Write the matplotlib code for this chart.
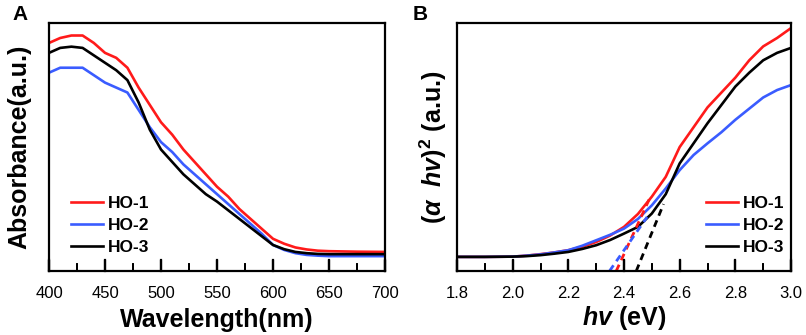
#Grafico de absorbancia UV-Vis + Tauc plot (HO-1, HO-2, HO-3)
import matplotlib
matplotlib.use('Agg')
import matplotlib.pyplot as plt
import matplotlib.transforms as mtransforms
from matplotlib.ticker import MultipleLocator

#Dados do painel A (comprimento de onda em nm)
comprimento = [400, 410, 420, 430, 440, 450, 460, 470, 480, 490, 500, 510, 520, 530, 540,
               550, 560, 570, 580, 590, 600, 610, 620, 630, 640, 650, 675, 700]
abs_ho1 = [0.92, 0.94, 0.95, 0.95, 0.92, 0.88, 0.86, 0.82, 0.74, 0.67, 0.60, 0.55, 0.49, 0.44, 0.39,
           0.34, 0.30, 0.25, 0.21, 0.17, 0.13, 0.11, 0.095, 0.087, 0.082, 0.080, 0.078, 0.077]
abs_ho2 = [0.80, 0.82, 0.82, 0.82, 0.79, 0.76, 0.74, 0.72, 0.65, 0.58, 0.52, 0.48, 0.43, 0.39, 0.35,
           0.31, 0.27, 0.23, 0.19, 0.15, 0.105, 0.085, 0.072, 0.065, 0.062, 0.060, 0.060, 0.060]
abs_ho3 = [0.88, 0.90, 0.905, 0.90, 0.87, 0.84, 0.81, 0.77, 0.68, 0.57, 0.49, 0.44, 0.39, 0.35, 0.31,
           0.28, 0.245, 0.21, 0.175, 0.14, 0.105, 0.088, 0.077, 0.072, 0.069, 0.068, 0.068, 0.068]

#Dados do painel B (energia em eV)
energia = [1.8, 1.9, 2.0, 2.05, 2.1, 2.15, 2.2, 2.25, 2.3, 2.35, 2.4, 2.45, 2.5, 2.55, 2.6,
           2.65, 2.7, 2.75, 2.8, 2.85, 2.9, 2.95, 3.0]
tauc_ho1 = [0.057, 0.057, 0.058, 0.062, 0.068, 0.075, 0.084, 0.098, 0.117, 0.143, 0.178, 0.23, 0.30, 0.38, 0.50,
            0.58, 0.66, 0.72, 0.78, 0.85, 0.906, 0.94, 0.98]
tauc_ho2 = [0.057, 0.057, 0.058, 0.062, 0.067, 0.075, 0.084, 0.102, 0.124, 0.146, 0.171, 0.21, 0.265, 0.333, 0.407,
            0.468, 0.515, 0.56, 0.61, 0.655, 0.70, 0.73, 0.75]
tauc_ho3 = [0.057, 0.057, 0.058, 0.060, 0.064, 0.070, 0.077, 0.089, 0.104, 0.125, 0.151, 0.178, 0.232, 0.31, 0.434,
            0.515, 0.596, 0.67, 0.744, 0.80, 0.85, 0.88, 0.90]

#Retas tangentes (inicio no eixo e ponto final)
tang_ho1_x = [2.372, 2.495]
tang_ho1_y = [0.0, 0.30]
tang_ho2_x = [2.348, 2.483]
tang_ho2_y = [0.0, 0.218]
tang_ho3_x = [2.444, 2.542]
tang_ho3_y = [0.0, 0.27]

nomes = ['HO-1', 'HO-2', 'HO-3']
cores = ['#ff1a1a', '#3a5cff', '#000000']

#Fontes e ticks (definidos antes de criar os eixos)
plt.rcParams['font.family'] = ['Liberation Sans', 'DejaVu Sans']
plt.rcParams['mathtext.fontset'] = 'custom'
plt.rcParams['mathtext.it'] = 'Liberation Sans:italic:bold'
plt.rcParams['mathtext.rm'] = 'Liberation Sans:bold'
plt.rcParams['xtick.direction'] = 'in'
plt.rcParams['xtick.major.size'] = 8
plt.rcParams['xtick.major.width'] = 1.6
plt.rcParams['xtick.minor.size'] = 5
plt.rcParams['xtick.minor.width'] = 1.4
plt.rcParams['xtick.major.pad'] = 11
plt.rcParams['xtick.labelsize'] = 12
plt.rcParams['xtick.minor.visible'] = True
plt.rcParams['axes.linewidth'] = 1.6
plt.rcParams['ytick.left'] = False
plt.rcParams['ytick.labelleft'] = False

fig = plt.figure(figsize=(8.06, 3.35), dpi=100)
axA = fig.add_axes([0.0608, 0.191, 0.4169, 0.740])
axB = fig.add_axes([0.567, 0.191, 0.4144, 0.740])

#Painel A
for y, nome, cor in zip([abs_ho1, abs_ho2, abs_ho3], nomes, cores):
    axA.plot(comprimento, y, color=cor, lw=1.9, label=nome)
axA.set_xlim(400, 700)
axA.set_ylim(0, 1)
axA.xaxis.set_major_locator(MultipleLocator(50))
axA.xaxis.set_minor_locator(MultipleLocator(25))
axA.set_xlabel('Wavelength(nm)', fontsize=18, fontweight='bold', labelpad=5)
axA.set_ylabel('Absorbance(a.u.)', fontsize=18, fontweight='bold', labelpad=13)

#Painel B
for y, nome, cor in zip([tauc_ho1, tauc_ho2, tauc_ho3], nomes, cores):
    axB.plot(energia, y, color=cor, lw=1.9, label=nome)
for tx, ty, cor in zip([tang_ho1_x, tang_ho2_x, tang_ho3_x], [tang_ho1_y, tang_ho2_y, tang_ho3_y], cores):
    axB.plot(tx, ty, color=cor, lw=2.0, ls=(0, (2.5, 1.8)))
axB.set_xlim(1.8, 3.0)
axB.set_ylim(0, 1)
axB.xaxis.set_major_locator(MultipleLocator(0.2))
axB.xaxis.set_minor_locator(MultipleLocator(0.1))
axB.xaxis.set_major_formatter('{x:.1f}')
axB.set_xlabel(r'$hv$ (eV)', fontsize=18, fontweight='bold', labelpad=2)
axB.set_ylabel(r'($\alpha$  $hv$)$^2$ (a.u.)', fontsize=18, fontweight='bold', labelpad=6)

#Legendas
axA.legend(loc='lower left', bbox_to_anchor=(0.02, 0.0), frameon=False, handlelength=1.8,
           handletextpad=0.3, labelspacing=0.4, prop={'weight': 'bold', 'size': 12.5})
axB.legend(loc='lower left', bbox_to_anchor=(0.70, 0.0), frameon=False, handlelength=1.8,
           handletextpad=0.3, labelspacing=0.4, prop={'weight': 'bold', 'size': 12.5})

#Ticks so embaixo, para dentro
for ax in [axA, axB]:
    ax.tick_params(axis='x', which='both', direction='in', bottom=True, top=False)
    ax.tick_params(axis='y', which='both', left=False, right=False, labelleft=False)
    #Reforca as marcas dos ticks com tracos desenhados no eixo
    trans = mtransforms.blended_transform_factory(ax.transData, ax.transAxes)
    x0, x1 = ax.get_xlim()
    for pos in ax.xaxis.get_majorticklocs():
        if x0 <= pos <= x1:
            ax.plot([pos, pos], [0, 0.044], color='black', lw=1.6, transform=trans, clip_on=False)
    for pos in ax.xaxis.get_minorticklocs():
        if x0 <= pos <= x1:
            ax.plot([pos, pos], [0, 0.028], color='black', lw=1.4, transform=trans, clip_on=False)

#Letras dos paineis
fig.text(0.016, 0.94, 'A', fontsize=15, fontweight='bold')
fig.text(0.512, 0.94, 'B', fontsize=15, fontweight='bold')

plt.savefig('out.png', dpi=100)
